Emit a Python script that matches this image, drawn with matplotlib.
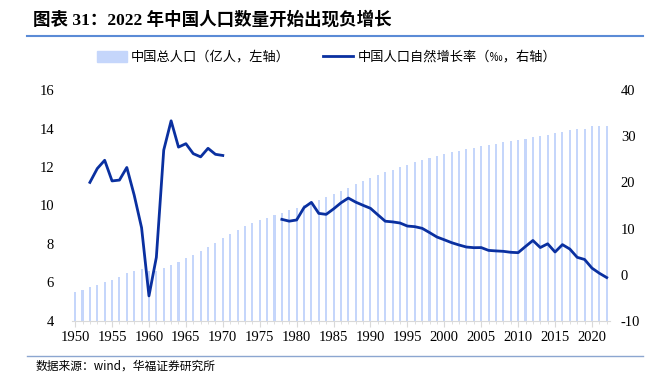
import matplotlib.pyplot as plt
import numpy as np

plt.rcParams['font.family'] = ['Liberation Serif', 'Noto Sans CJK SC', 'DejaVu Sans']
plt.rcParams['axes.unicode_minus'] = False

#-------------------datos-------------------
years = list(range(1950, 2023))
# 中国总人口（亿人）
population = [5.52, 5.63, 5.75, 5.88, 6.03, 6.15, 6.28, 6.47, 6.60, 6.72,
              6.62, 6.59, 6.73, 6.92, 7.05, 7.25, 7.45, 7.64, 7.85, 8.07,
              8.30, 8.52, 8.72, 8.92, 9.09, 9.24, 9.37, 9.50, 9.63, 9.75,
              9.87, 10.01, 10.17, 10.30, 10.44, 10.59, 10.75, 10.93, 11.10, 11.27,
              11.43, 11.58, 11.72, 11.85, 11.99, 12.11, 12.24, 12.36, 12.48, 12.58,
              12.67, 12.76, 12.85, 12.92, 13.00, 13.08, 13.14, 13.21, 13.28, 13.35,
              13.41, 13.47, 13.54, 13.61, 13.68, 13.75, 13.83, 13.90, 13.95, 14.00,
              14.12, 14.13, 14.12]
# 中国人口自然增长率（‰），1971-1977 无数据
rate_years_a = list(range(1952, 1971))
rate_a = [20.0, 23.0, 24.79, 20.32, 20.50, 23.23, 17.24, 10.19, -4.57, 3.78,
          26.99, 33.33, 27.64, 28.38, 26.22, 25.53, 27.38, 26.08, 25.83]
rate_years_b = list(range(1978, 2023))
rate_b = [12.00, 11.61, 11.87, 14.55, 15.68, 13.29, 13.08, 14.26, 15.57, 16.61,
          15.73, 15.04, 14.39, 12.98, 11.60, 11.45, 11.21, 10.55, 10.42, 10.06,
          9.14, 8.18, 7.58, 6.95, 6.45, 6.01, 5.87, 5.89, 5.28, 5.17,
          5.08, 4.87, 4.79, 6.13, 7.43, 5.90, 6.71, 4.93, 6.53, 5.58,
          3.78, 3.32, 1.45, 0.34, -0.60]

titulo = '图表 31：2022 年中国人口数量开始出现负增长'
leyenda = ['中国总人口（亿人，左轴）', '中国人口自然增长率（‰，右轴）']
fuente = '数据来源：wind，华福证券研究所'

color_barra = '#c5d6fb'
color_linea = '#0a30a0'
#--------------------------------------------

fig = plt.figure(figsize=(6.64, 3.78), dpi=100)
ax1 = fig.add_axes([0.1087, 0.1508, 0.8095, 0.6111])
ax2 = ax1.twinx()

ax1.bar(years, population, width=0.28, color=color_barra, label=leyenda[0], zorder=1)
l1, = ax2.plot(rate_years_a, rate_a, color=color_linea, lw=2, label=leyenda[1])
ax2.plot(rate_years_b, rate_b, color=color_linea, lw=2)

ax1.set_xlim(1949.6, 2022.4)
ax1.set_ylim(4, 16)
ax1.set_yticks(np.arange(4, 17, 2))
ax2.set_ylim(-10, 40)
ax2.set_yticks(np.arange(-10, 41, 10))

ax1.set_xticks(np.arange(1950, 2021, 5))
ax1.set_xticks(np.arange(1950, 2023, 1), minor=True)

for ax in (ax1, ax2):
    for s in ['top', 'left', 'right']:
        ax.spines[s].set_visible(False)
    ax.spines['bottom'].set_color('#d9d9d9')
ax2.spines['bottom'].set_visible(False)

ax1.tick_params(axis='y', length=0, pad=13, labelsize=10.5)
ax2.tick_params(axis='y', length=0, pad=8, labelsize=10.5)
ax1.tick_params(axis='x', which='major', length=4, color='#d9d9d9', labelsize=10.5, pad=3)
ax1.tick_params(axis='x', which='minor', length=2, color='#d9d9d9')

# leyenda
h1 = plt.Rectangle((0, 0), 1, 1, color=color_barra)
fig.legend([h1, l1], leyenda, loc='center left', bbox_to_anchor=(0.1456, 0.849), ncol=2,
           frameon=False, prop={'family': ['Noto Sans CJK SC'], 'size': 9.5},
           handlelength=2.3, handleheight=0.9, columnspacing=2.5, handletextpad=0.3,
           borderaxespad=0, borderpad=0)

# titulo y fuente
fig.text(0.05, 0.949, titulo, fontsize=12.6, fontweight='bold', va='center',
         family=['Liberation Serif', 'Noto Sans CJK SC'])
fig.add_artist(plt.Line2D([0.041, 0.968], [0.905, 0.905], color='#5b8bd6', lw=1.5))
fig.add_artist(plt.Line2D([0.041, 0.968], [0.058, 0.058], color='#8ca6d0', lw=1))
fig.text(0.053, 0.031, fuente, fontsize=8.5, va='center',
         family=['Noto Sans CJK SC', 'Liberation Serif'])

fig.savefig('out.png', dpi=100)
